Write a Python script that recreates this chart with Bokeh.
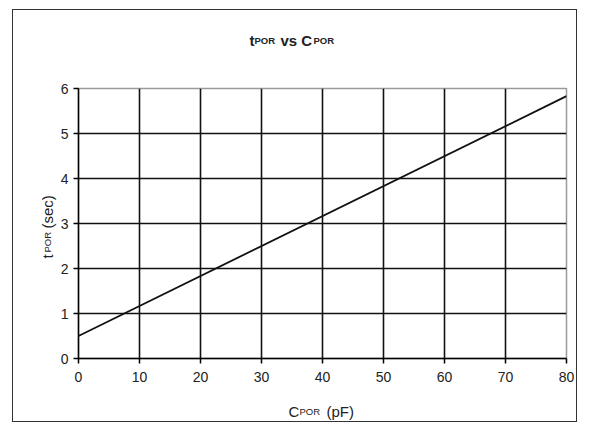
import math
from bokeh.plotting import figure
from bokeh.models import Label, FixedTicker, Range1d, InlineStyleSheet
from bokeh.embed import file_html
from bokeh.resources import INLINE

# Data
c_por = [0, 80]            # pF
t_por = [0.50, 5.83]       # sec
x_ticks = [0, 10, 20, 30, 40, 50, 60, 70, 80]
y_ticks = [0, 1, 2, 3, 4, 5, 6]

W, H = 578, 423
FL, FT, FR, FB = 78, 88, W - 566, H - 358  # frame borders in canvas px
XMAX, YMAX = 80, 6

p = figure(width=W, height=H, output_backend="svg", toolbar_location=None,
           x_range=Range1d(0, XMAX), y_range=Range1d(0, YMAX),
           min_border_left=FL, min_border_right=FR,
           min_border_top=FT, min_border_bottom=FB)
p.background_fill_color = "white"
p.border_fill_color = "white"
p.outline_line_color = "#9a9a9a"
p.outline_line_width = 1.5

# outer chart border drawn over the canvas
p.stylesheets = [InlineStyleSheet(css="""
:host { position: relative; }
:host::after { content: ""; position: absolute; left: 12px; top: 9px; right: 1px; bottom: 1px;
  border: 1.5px solid #333333; pointer-events: none; box-sizing: border-box; }
""")]

FONT = "Liberation Sans"

for ax, ticks in ((p.xaxis[0], x_ticks), (p.yaxis[0], y_ticks)):
    ax.ticker = FixedTicker(ticks=ticks)
    ax.axis_line_color = "black"
    ax.axis_line_width = 1.5
    ax.major_tick_line_color = "black"
    ax.major_tick_line_width = 1.5
    ax.major_tick_in = 0
    ax.major_tick_out = 5
    ax.minor_tick_line_color = None
    ax.major_label_text_font = FONT
    ax.major_label_text_font_size = "14px"
    ax.major_label_text_color = "#222222"
p.xaxis.major_label_standoff = 8
p.yaxis.major_label_standoff = 5

p.xgrid.ticker = FixedTicker(ticks=x_ticks[1:-1])
p.ygrid.ticker = FixedTicker(ticks=y_ticks[1:-1])
for g in (p.xgrid[0], p.ygrid[0]):
    g.grid_line_color = "#111111"
    g.grid_line_width = 1.6

p.line(c_por, t_por, line_color="#111111", line_width=1.8)

def lab(text, px, py, size, side, bold=False, angle=0.0):
    p.add_layout(Label(x=px, y=py, x_units="canvas", y_units="canvas",
                       text=text, angle=angle,
                       text_font=FONT, text_font_size=size,
                       text_font_style="bold" if bold else "normal",
                       text_color="#222222", text_align="left",
                       text_baseline="alphabetic"), side)

# Title: t_POR vs C_POR
lab("t", 249, 40, "15px", "above", True)
lab("POR", 254, 40, "9.5px", "above", True)
lab("vs C", 280, 40, "15px", "above", True)
lab("POR", 313, 40, "9.5px", "above", True)

# X axis label: C_POR (pF)
lab("C", 288, 411, "15px", "above")
lab("POR", 299, 411, "9.5px", "below")
lab("(pF)", 326, 411, "15px", "below")

# Y axis label: t_POR (sec) rotated
lab("t", 47, 258, "15px", "above", angle=math.pi / 2)
lab("POR", 47, 252, "9.5px", "left", angle=math.pi / 2)
lab("(sec)", 47, 228, "15px", "left", angle=math.pi / 2)

open("out.html", "w").write(file_html(p, INLINE))
